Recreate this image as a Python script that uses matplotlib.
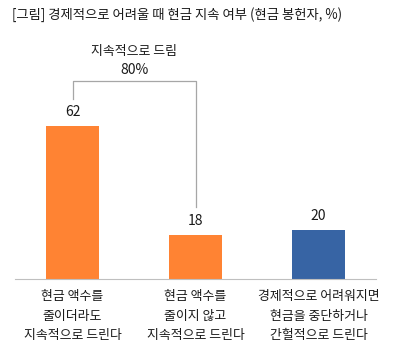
import matplotlib
matplotlib.use('Agg')
import matplotlib.pyplot as plt

plt.rcParams['font.family'] = ['Noto Sans CJK KR', 'DejaVu Sans']

# Data
categories = ['현금 액수를\n줄이더라도\n지속적으로 드린다',
              '현금 액수를\n줄이지 않고\n지속적으로 드린다',
              '경제적으로 어려워지면\n현금을 중단하거나\n간헐적으로 드린다']
values = [62, 18, 20]
colors = ['#FF8333', '#FF8333', '#3764A4']
total_label = '지속적으로 드림'
total_value = values[0] + values[1]

fig = plt.figure(figsize=(3.97, 3.59), dpi=100)
W, H = 397, 359
ax = fig.add_axes([15 / W, 1 - 279 / H, 361 / W, 247 / H])

txt = '#1a1a1a'
fs = 9.3

x = range(len(values))
ax.bar(x, values, width=0.43, color=colors)
ax.set_xlim(-0.4675, 2.4675)
ax.set_ylim(0, 100)

for xi, v in zip(x, values):
    ax.annotate(str(v), (xi, v), xytext=(0, 10), textcoords='offset points',
                ha='center', va='center', fontsize=10, color=txt)

# bracket for "지속적으로 드림"
ax.plot([0, 0, 1, 1], [values[0] + 11, total_value, total_value, values[1] + 11],
        color='#A6A6A6', lw=0.9)
ax.annotate(f'{total_value}%', (0.5, total_value), xytext=(0, 8),
            textcoords='offset points', ha='center', va='center',
            fontsize=10, color=txt)
ax.annotate(total_label, (0.5, total_value), xytext=(0, 21.5),
            textcoords='offset points', ha='center', va='center',
            fontsize=fs, color=txt)

ax.set_xticks(list(x))
ax.set_xticklabels(categories, fontsize=fs, color=txt, linespacing=1.65)
ax.tick_params(axis='x', length=0, pad=8)
ax.set_yticks([])
for s in ['top', 'right', 'left']:
    ax.spines[s].set_visible(False)
ax.spines['bottom'].set_color('#BFBFBF')

fig.text(12 / W, 1 - 15 / H, '[그림] 경제적으로 어려울 때 현금 지속 여부 (현금 봉헌자, %)',
         fontsize=9.6, va='center', ha='left', color=txt)

fig.savefig('out.png', dpi=100)
